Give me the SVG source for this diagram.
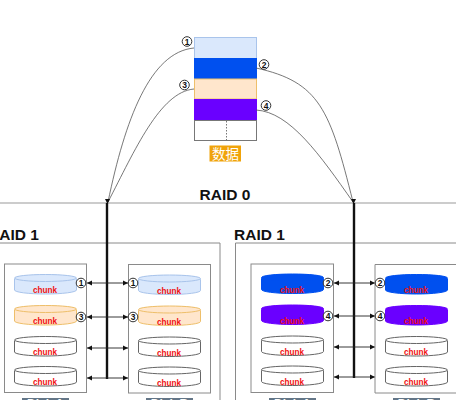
<svg xmlns="http://www.w3.org/2000/svg" width="456" height="400" viewBox="0 0 456 400">
<defs>
<marker id="a" markerWidth="6" markerHeight="6" refX="5" refY="3" orient="auto-start-reverse" markerUnits="userSpaceOnUse"><path d="M0 0.5L5 3L0 5.5Z" fill="#111"/></marker>
<g id="num"><circle r="4.8" fill="#fff" stroke="#333" stroke-width="1"/></g>
</defs>
<style>
text{font-family:"Liberation Sans","Noto Sans CJK SC",sans-serif}
.box{fill:#fff;stroke:#8a8a8a;stroke-width:1}
.t{font-size:15.5px;font-weight:700;fill:#111}
.c{font-size:8.2px;font-weight:700;fill:#f01010;text-anchor:middle}
.n{font-size:8.5px;font-weight:700;fill:#111;text-anchor:middle}
.l{fill:none;stroke:#555;stroke-width:0.8}
.d{fill:none;stroke:#222;stroke-width:0.9;marker-start:url(#a);marker-end:url(#a)}
.w{fill:#fff;stroke:#666}
.b1{fill:#dae8fc;stroke:#a9c4eb}
.o{fill:#ffe6cc;stroke:#eebf6a}
.b2{fill:#0050ef;stroke:#0050ef}
.p{fill:#6a00ff;stroke:#6a00ff}
.lab{fill:#647687}
.lt{font-size:12px;font-weight:700;fill:#fff;text-anchor:middle}
</style>
<g id="raid0"><path d="M0 203H456" stroke="#999" fill="none"/><text x="225" y="200" class="t" text-anchor="middle">RAID 0</text></g>
<g id="raid1-left"><path d="M0 243H220V400" class="box" style="fill:none"/><text x="-12" y="240" class="t">RAID 1</text></g>
<g id="raid1-right"><path d="M235.500 400V243H456" class="box" style="fill:none"/><text x="234" y="240" class="t">RAID 1</text></g>
<g id="data">
<rect x="194.500" y="37.500" width="62" height="21" class="b1"/>
<rect x="194.500" y="58.500" width="62" height="20" class="b2"/>
<rect x="194.500" y="79" width="62" height="20" class="o"/>
<rect x="194.500" y="99.500" width="62" height="21" class="p"/>
<rect x="194.500" y="120.500" width="62" height="20" fill="#fff" stroke="#777"/>
<path d="M226.500 121V140" stroke="#777" stroke-dasharray="1.500 1.500"/>
<rect x="209.500" y="145.500" width="31.500" height="16" fill="#f0a30a"/>
<text x="225.500" y="158.500" font-size="13.500" fill="#fff" text-anchor="middle">数据</text>
</g>
<g id="connectors">
<path class="l" d="M194 48C150 52 125 120 108 202"/>
<path class="l" d="M194 89C160 92 135 150 108 202"/>
<path class="l" d="M256 68C320 82 330 110 353 202"/>
<path class="l" d="M256 110C290 112 320 155 353 202"/>
<path d="M105 199L110 199L107.500 204Z" fill="#111"/>
<path d="M351 199L356 199L353.500 204Z" fill="#111"/>
<path d="M107 203V379" stroke="#111" stroke-width="2.400"/>
<path d="M354 203V378" stroke="#111" stroke-width="2.400"/>
<path class="d" d="M87 283H128"/><path class="d" d="M87 317H128"/><path class="d" d="M87 348H128"/><path class="d" d="M87 378H128"/>
<path class="d" d="M334 283H375"/><path class="d" d="M334 316H375"/><path class="d" d="M334 347H375"/><path class="d" d="M334 377H375"/>
</g>
<g id="disk-a1"><rect x="4.500" y="264" width="82" height="128.500" class="box"/>
<rect x="14.500" y="275" width="62" height="19" rx="31" ry="4" class="b1"/><ellipse cx="45.500" cy="278" rx="31" ry="3.500" class="b1"/><text x="45" y="293" class="c">chunk</text>
<rect x="14.500" y="306" width="62" height="19" rx="31" ry="4" class="o"/><ellipse cx="45.500" cy="309" rx="31" ry="3.500" class="o"/><text x="45" y="324" class="c">chunk</text>
<rect x="14.500" y="337" width="62" height="19" rx="31" ry="4" class="w"/><ellipse cx="45.500" cy="340" rx="31" ry="3.500" class="w"/><text x="45" y="355" class="c">chunk</text>
<rect x="14.500" y="367" width="62" height="19" rx="31" ry="4" class="w"/><ellipse cx="45.500" cy="370" rx="31" ry="3.500" class="w"/><text x="45" y="385" class="c">chunk</text>
<rect x="22" y="398" width="47" height="14" class="lab"/><text x="45.500" y="407.600" class="lt">Disk A</text></g>
<g id="disk-b1"><rect x="128.500" y="264.500" width="82" height="128.500" class="box"/>
<rect x="138.500" y="275.500" width="62" height="19" rx="31" ry="4" class="b1"/><ellipse cx="169.500" cy="278.500" rx="31" ry="3.500" class="b1"/><text x="169" y="293.500" class="c">chunk</text>
<rect x="138.500" y="306.500" width="62" height="19" rx="31" ry="4" class="o"/><ellipse cx="169.500" cy="309.500" rx="31" ry="3.500" class="o"/><text x="169" y="324.500" class="c">chunk</text>
<rect x="138.500" y="337.500" width="62" height="19" rx="31" ry="4" class="w"/><ellipse cx="169.500" cy="340.500" rx="31" ry="3.500" class="w"/><text x="169" y="355.500" class="c">chunk</text>
<rect x="138.500" y="367.500" width="62" height="19" rx="31" ry="4" class="w"/><ellipse cx="169.500" cy="370.500" rx="31" ry="3.500" class="w"/><text x="169" y="385.500" class="c">chunk</text>
<rect x="146" y="398" width="47" height="14" class="lab"/><text x="169.500" y="407.600" class="lt">Disk B</text></g>
<g id="disk-a2"><rect x="251" y="264" width="82.500" height="128.500" class="box"/>
<rect x="261.500" y="274.500" width="62" height="19" rx="31" ry="4" class="b2"/><ellipse cx="292.500" cy="277.500" rx="31" ry="3.500" class="b2"/><text x="292" y="292.500" class="c">chunk</text>
<rect x="261.500" y="305.500" width="62" height="19" rx="31" ry="4" class="p"/><ellipse cx="292.500" cy="308.500" rx="31" ry="3.500" class="p"/><text x="292" y="323.500" class="c">chunk</text>
<rect x="261.500" y="336.500" width="62" height="19" rx="31" ry="4" class="w"/><ellipse cx="292.500" cy="339.500" rx="31" ry="3.500" class="w"/><text x="292" y="354.500" class="c">chunk</text>
<rect x="261.500" y="366.500" width="62" height="19" rx="31" ry="4" class="w"/><ellipse cx="292.500" cy="369.500" rx="31" ry="3.500" class="w"/><text x="292" y="384.500" class="c">chunk</text>
<rect x="269" y="398" width="47" height="14" class="lab"/><text x="292.500" y="407.600" class="lt">Disk A</text></g>
<g id="disk-b2"><path d="M456 264.500H375V393H456" class="box"/>
<rect x="385.500" y="275" width="62" height="19" rx="31" ry="4" class="b2"/><ellipse cx="416.500" cy="278" rx="31" ry="3.500" class="b2"/><text x="416" y="293" class="c">chunk</text>
<rect x="385.500" y="306" width="62" height="19" rx="31" ry="4" class="p"/><ellipse cx="416.500" cy="309" rx="31" ry="3.500" class="p"/><text x="416" y="324" class="c">chunk</text>
<rect x="385.500" y="337" width="62" height="19" rx="31" ry="4" class="w"/><ellipse cx="416.500" cy="340" rx="31" ry="3.500" class="w"/><text x="416" y="355" class="c">chunk</text>
<rect x="385.500" y="367" width="62" height="19" rx="31" ry="4" class="w"/><ellipse cx="416.500" cy="370" rx="31" ry="3.500" class="w"/><text x="416" y="385" class="c">chunk</text>
<rect x="393" y="398" width="47" height="14" class="lab"/><text x="416.500" y="407.600" class="lt">Disk B</text></g>
<g id="numbers">
<use href="#num" x="187" y="41.500"/><text x="187" y="44.500" class="n">1</text>
<use href="#num" x="264" y="64.500"/><text x="264" y="67.500" class="n">2</text>
<use href="#num" x="184.500" y="85"/><text x="184.500" y="88" class="n">3</text>
<use href="#num" x="266" y="105.500"/><text x="266" y="108.500" class="n">4</text>
<use href="#num" x="81" y="283"/><text x="81" y="286" class="n">1</text>
<use href="#num" x="133" y="283"/><text x="133" y="286" class="n">1</text>
<use href="#num" x="81" y="317"/><text x="81" y="320" class="n">3</text>
<use href="#num" x="133" y="317"/><text x="133" y="320" class="n">3</text>
<use href="#num" x="328" y="283"/><text x="328" y="286" class="n">2</text>
<use href="#num" x="380" y="283"/><text x="380" y="286" class="n">2</text>
<use href="#num" x="328" y="316"/><text x="328" y="319" class="n">4</text>
<use href="#num" x="380" y="316"/><text x="380" y="319" class="n">4</text>
</g>
</svg>
